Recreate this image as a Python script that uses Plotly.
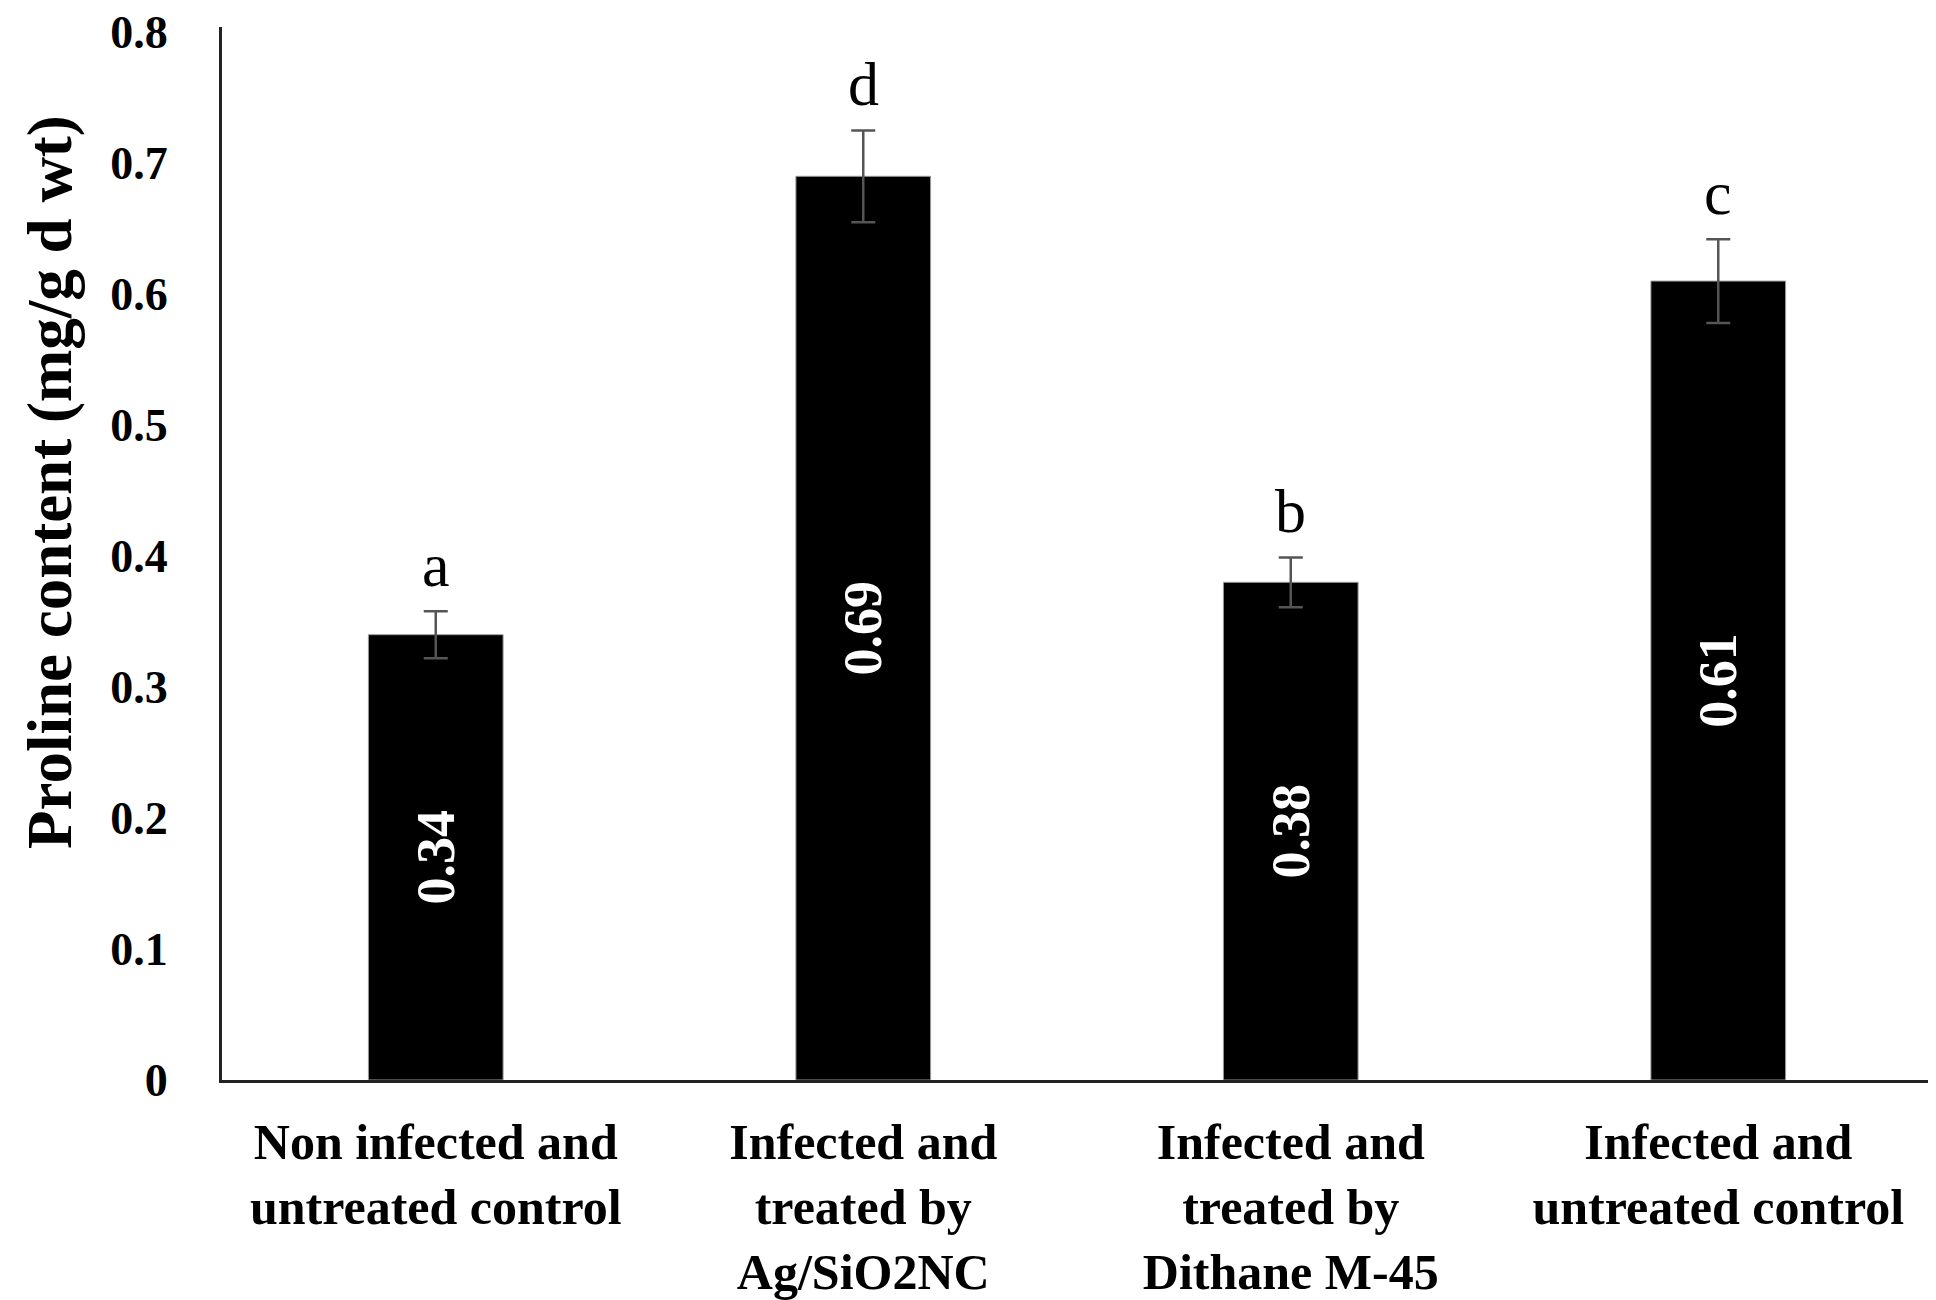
import plotly.graph_objects as go

categories = ["Non infected and<br>untreated control",
              "Infected and<br>treated by<br>Ag/SiO2NC",
              "Infected and<br>treated by<br>Dithane M-45",
              "Infected and<br>untreated control"]
values = [0.34, 0.69, 0.38, 0.61]
errors = [0.018, 0.035, 0.019, 0.032]
letters = ["a", "d", "b", "c"]
value_labels = ["0.34", "0.69", "0.38", "0.61"]
y_ticks = [0, 0.1, 0.2, 0.3, 0.4, 0.5, 0.6, 0.7, 0.8]
y_tick_text = ["0", "0.1", "0.2", "0.3", "0.4", "0.5", "0.6", "0.7", "0.8"]
y_title = "Proline content (mg/g d wt)"

SERIF = "Liberation Serif, Times New Roman, serif"

fig = go.Figure()
fig.add_trace(go.Bar(
    x=categories, y=values, width=0.315,
    marker=dict(color="black", line=dict(color="#9a9a9a", width=1)),
    error_y=dict(type="data", array=errors, visible=True,
                 color="#555555", thickness=2.5, width=12),
    text=value_labels, textposition="inside", insidetextanchor="middle",
    textangle=-90,
    textfont=dict(family=SERIF, size=54, color="white", weight="bold"),
    showlegend=False,
))

for c, v, e, l in zip(categories, values, errors, letters):
    fig.add_annotation(x=c, y=v + e, text=l, showarrow=False,
                       yanchor="bottom", yshift=10,
                       font=dict(family=SERIF, size=62, color="black"))

# y-axis title
fig.add_annotation(xref="paper", yref="paper", x=0, y=0.568, text=y_title,
                   showarrow=False, textangle=-90, xanchor="center", yanchor="middle",
                   xshift=-172,
                   font=dict(family=SERIF, size=63, color="black", weight="bold"))

fig.update_layout(
    width=1928, height=1292,
    margin=dict(l=214, r=4, t=19, b=220),
    paper_bgcolor="white", plot_bgcolor="white",
    font=dict(family=SERIF, color="black"),
    xaxis=dict(showline=True, linecolor="#222222", linewidth=3,
               showgrid=False, ticks="", zeroline=False, automargin=False,
               tickfont=dict(family=SERIF, size=50, color="black", weight="bold"),
               ticklabelstandoff=16),
    yaxis=dict(range=[0, 0.804], showline=True, linecolor="#222222", linewidth=3,
               showgrid=False, ticks="", zeroline=False, automargin=False,
               tickvals=y_ticks, ticktext=y_tick_text, ticklabeloverflow="allow",
               tickfont=dict(family=SERIF, size=46, color="black", weight="bold"),
               ticklabelstandoff=42),
)

fig.write_html("out.html")
